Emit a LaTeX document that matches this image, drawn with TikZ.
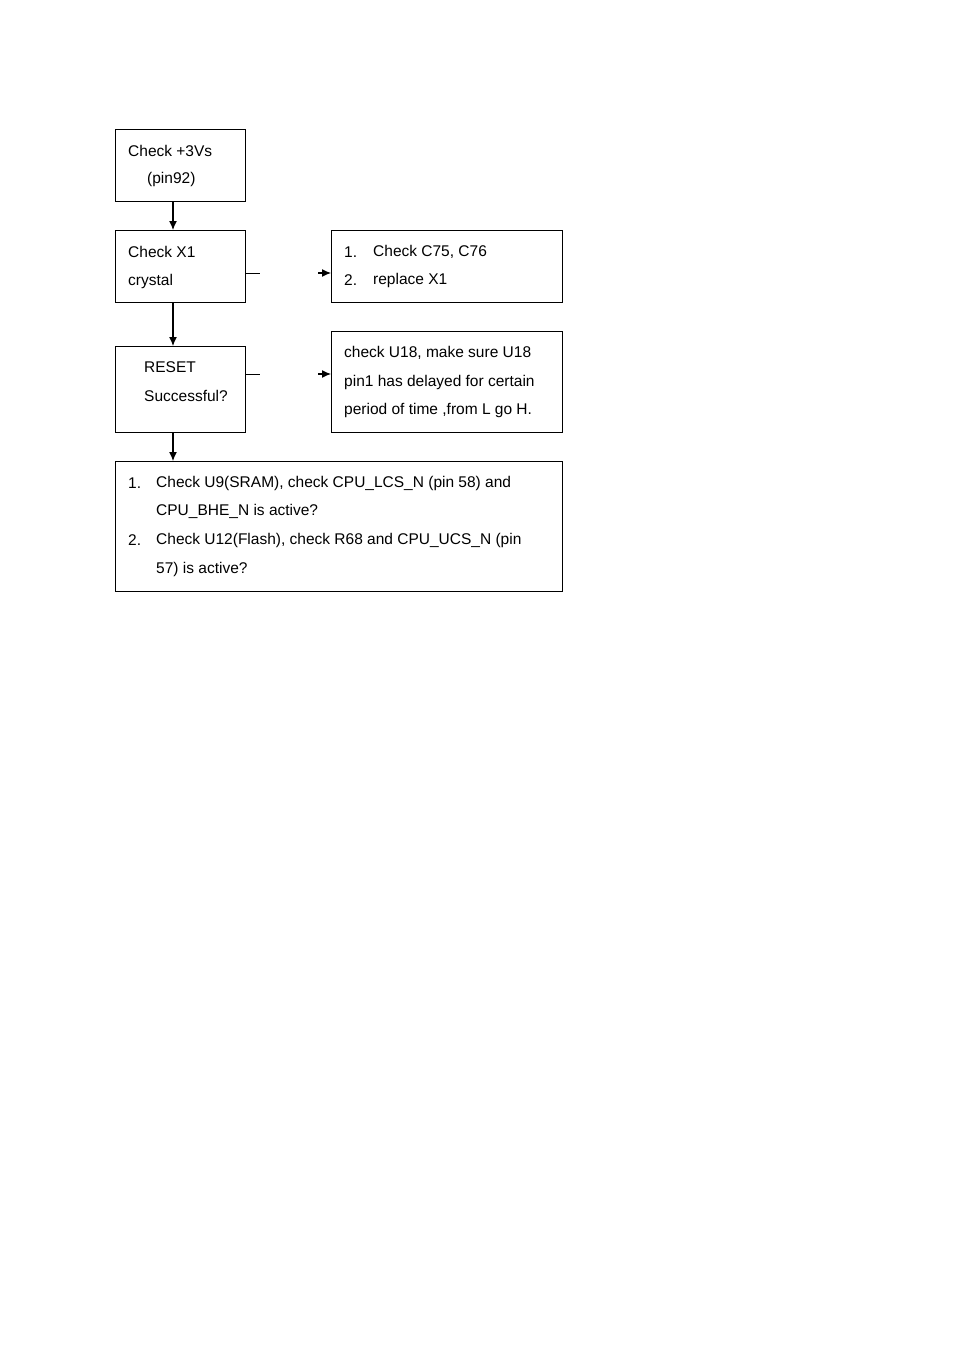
\documentclass[tikz,border=0pt]{standalone}
\usepackage{fontspec}
\setmainfont{Liberation Sans}
\begin{document}
\begin{tikzpicture}[x=1pt,y=-1pt,
  box/.style={draw,line width=0.8pt,inner sep=0pt,anchor=north west},
  txt/.style={anchor=west,inner sep=0pt,font=\fontsize{15.5}{18}\selectfont},
  arr/.style={-{Latex[length=9pt,width=8pt]},line width=1.2pt},
  stub/.style={line width=0.8pt}]
\useasboundingbox[fill=white] (0,0) rectangle (954,1351);
\usetikzlibrary{arrows.meta}
\node[box,minimum width=130pt,minimum height=72pt] (A) at (115,129) {};
\node[box,minimum width=130pt,minimum height=72pt] (B) at (115,230) {};
\node[box,minimum width=231pt,minimum height=72pt] (C) at (331,230) {};
\node[box,minimum width=130pt,minimum height=86pt] (D) at (115,346) {};
\node[box,minimum width=231pt,minimum height=101pt] (E) at (331,331) {};
\node[box,minimum width=447pt,minimum height=130pt] (F) at (115,461) {};
\node[txt] (a1) at (128,151) {Check +3Vs};
\node[txt] (a2) at (147,179) {(pin92)};
\node[txt] (b1) at (128,252) {Check X1};
\node[txt] (b2) at (128,281) {crystal};
\node[txt] (c1n) at (344,252) {1.};
\node[txt] (c1) at (373,252) {Check C75, C76};
\node[txt] (c2n) at (344,280) {2.};
\node[txt] (c2) at (373,280) {replace X1};
\node[txt] (d1) at (144,367) {RESET};
\node[txt] (d2) at (144,396) {Successful?};
\node[txt] (e1) at (344,353) {check U18, make sure U18};
\node[txt] (e2) at (344,382) {pin1 has delayed for certain};
\node[txt] (e3) at (344,410) {period of time ,from L go H.};
\node[txt] (f1n) at (128,483) {1.};
\node[txt] (f1) at (156,483) {Check U9(SRAM), check CPU\_LCS\_N (pin 58) and};
\node[txt] (f2) at (156,511) {CPU\_BHE\_N is active?};
\node[txt] (f3n) at (128,540) {2.};
\node[txt] (f3) at (156,540) {Check U12(Flash), check R68 and CPU\_UCS\_N (pin};
\node[txt] (f4) at (156,569) {57) is active?};
\draw[arr] (A.south -| 173,0) -- (B.north -| 173,0);
\draw[arr] (B.south -| 173,0) -- (D.north -| 173,0);
\draw[arr] (D.south -| 173,0) -- (F.north -| 173,0);
\coordinate (s1) at (260,273); \coordinate (t1) at (318,273);
\coordinate (s2) at (260,374); \coordinate (t2) at (318,374);
\draw[stub] (B.east |- s1) -- (s1);
\draw[arr] (t1) -- (C.west |- t1);
\draw[stub] (D.east |- s2) -- (s2);
\draw[arr] (t2) -- (E.west |- t2);
\end{tikzpicture}
\end{document}
